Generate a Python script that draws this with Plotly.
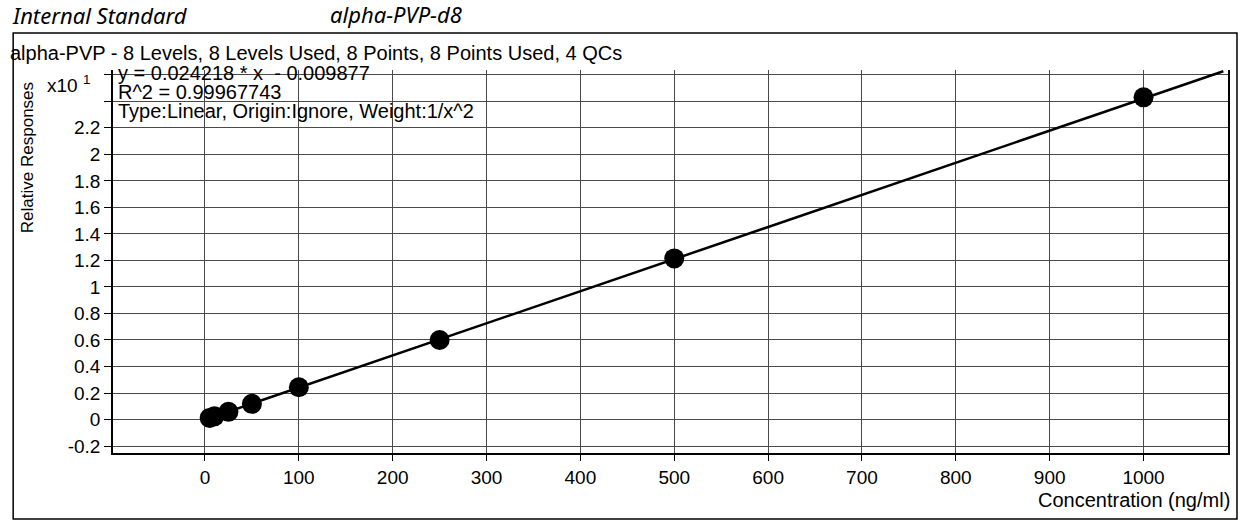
import plotly.graph_objects as go

# ---- data ----
concentration = [5, 10, 25, 50, 100, 250, 500, 1000]          # ng/ml
rel_response = [0.012, 0.024, 0.058, 0.118, 0.243, 0.600, 1.215, 2.430]  # x10^1
fit_slope = 0.024218
fit_intercept = -0.009877
r_squared = "0.99967743"
y_multiplier = 10

x_ticks = [0, 100, 200, 300, 400, 500, 600, 700, 800, 900, 1000]
y_ticks = [-0.2, 0, 0.2, 0.4, 0.6, 0.8, 1, 1.2, 1.4, 1.6, 1.8, 2, 2.2]
y_tick_text = ["-0.2", "0", "0.2", "0.4", "0.6", "0.8", "1", "1.2", "1.4", "1.6",
               "1.8", "2", "2.2"]
y_grid = [-0.2, 0, 0.2, 0.4, 0.6, 0.8, 1, 1.2, 1.4, 1.6, 1.8, 2, 2.2, 2.4, 2.6]
x_range = [-98, 1090]
y_range = [-0.2525, 2.636]

title_text = "alpha-PVP - 8 Levels, 8 Levels Used, 8 Points, 8 Points Used, 4 QCs"
header_left = "Internal Standard"
header_right = "alpha-PVP-d8"

# ---- layout geometry (pixels) ----
W, H = 1241, 527
L, R, T, B = 113, 1230, 70, 453


def px2x(px):
    return (px - L) / (R - L)


def px2y(py):
    return (B - py) / (B - T)


FONT = "Liberation Sans, Arial, sans-serif"
GRID = "#4a4a4a"

fit_x = [min(concentration), x_range[1] - 5]
fit_y = [(fit_slope * v + fit_intercept) / y_multiplier for v in fit_x]

fig = go.Figure()
fig.add_trace(go.Scatter(x=fit_x, y=fit_y, mode="lines",
                         line=dict(color="black", width=2.5),
                         hoverinfo="skip", showlegend=False))
fig.add_trace(go.Scatter(x=concentration, y=rel_response, mode="markers",
                         marker=dict(color="black", size=20),
                         showlegend=False))

fig.update_layout(
    width=W, height=H,
    margin=dict(l=L, r=W - R, t=T, b=H - B, pad=0),
    paper_bgcolor="white", plot_bgcolor="white",
    font=dict(family=FONT, size=19, color="black"),
    xaxis=dict(range=x_range, tickvals=x_ticks, ticks="outside", ticklen=6,
               tickcolor="black", showgrid=True, gridcolor=GRID, gridwidth=1,
               showline=True, linecolor="black", linewidth=1.5, zeroline=False,
               tickfont=dict(size=19)),
    yaxis=dict(range=y_range, tickvals=y_ticks, ticktext=y_tick_text,
               ticks="outside", ticklen=7, tickcolor="black",
               showgrid=True, gridcolor=GRID, gridwidth=1,
               minor=dict(tickvals=y_grid, ticks="outside", ticklen=7,
                          tickcolor="black", showgrid=True, gridcolor=GRID,
                          gridwidth=1),
               showline=True, linecolor="black", linewidth=1.5, mirror=True,
               zeroline=False, tickfont=dict(size=19)),
)

# outer frame
fig.add_shape(type="rect", xref="paper", yref="paper",
              x0=px2x(13), x1=px2x(1239), y0=px2y(519), y1=px2y(33),
              line=dict(color="black", width=1.5))

ann = [
    dict(text=f"<i>{header_left}</i>", x=px2x(10), y=px2y(15), xanchor="left",
         font=dict(family="Noto Sans, DejaVu Sans", size=22)),
    dict(text=f"<i>{header_right}</i>", x=px2x(328), y=px2y(14), xanchor="left",
         font=dict(family="Noto Sans, DejaVu Sans", size=22)),
    dict(text=title_text, x=px2x(8), y=px2y(53), xanchor="left",
         font=dict(size=20)),
    dict(text="x10 <sup>1</sup>", x=px2x(45), y=px2y(84), xanchor="left",
         font=dict(size=19)),
    dict(text=f"y = {fit_slope} * x  - {abs(fit_intercept):.6f}", x=px2x(116),
         y=px2y(73), xanchor="left", font=dict(size=20)),
    dict(text=f"R^2 = {r_squared}", x=px2x(116), y=px2y(92), xanchor="left",
         font=dict(size=20)),
    dict(text="Type:Linear, Origin:Ignore, Weight:1/x^2", x=px2x(116),
         y=px2y(111), xanchor="left", font=dict(size=20)),
    dict(text="Relative Responses", x=px2x(27), y=px2y(158), textangle=-90,
         xanchor="center", font=dict(size=17)),
    dict(text="Concentration (ng/ml)", x=px2x(1234), y=px2y(500),
         xanchor="right", font=dict(size=20)),
]
for a in ann:
    fig.add_annotation(xref="paper", yref="paper", showarrow=False,
                       yanchor="middle", **a)

fig.write_html("out.html",
               config={"displayModeBar": False},
               post_script="document.body.style.margin='0px';"
                           "document.body.style.overflow='hidden';")
